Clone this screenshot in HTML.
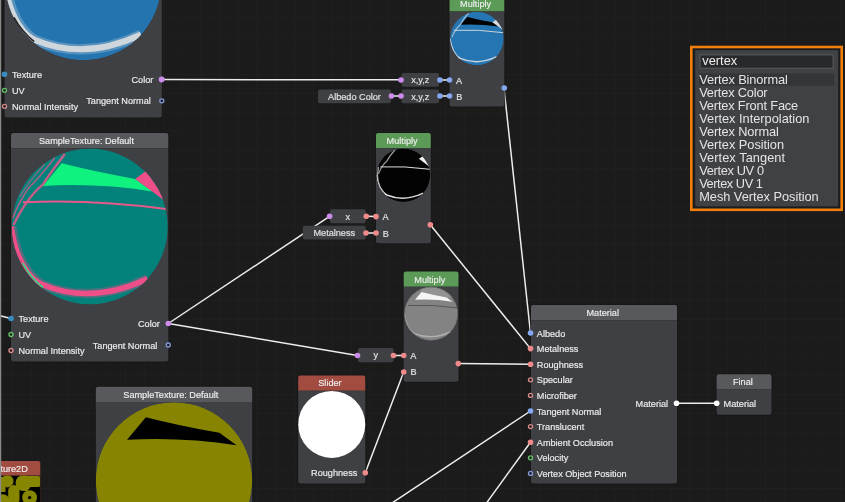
<!DOCTYPE html>
<html><head><meta charset="utf-8"><style>
html,body{margin:0;padding:0;background:#1b1b1b;width:845px;height:502px;overflow:hidden}
</style></head><body>
<svg width="845" height="502" viewBox="0 0 845 502" style="display:block;font-family:'Liberation Sans', sans-serif;will-change:transform"><defs></defs><rect width="845" height="502" fill="#1b1b1b"/><path d="M12.55,0V502M31.37,0V502M50.19,0V502M69.01,0V502M87.83,0V502M106.65,0V502M125.47,0V502M144.29,0V502M163.11,0V502M181.93,0V502M200.75,0V502M219.57,0V502M238.39,0V502M257.21,0V502M276.03,0V502M294.85,0V502M313.67,0V502M332.49,0V502M351.31,0V502M370.13,0V502M388.95,0V502M407.77,0V502M426.59,0V502M445.41,0V502M464.23,0V502M483.05,0V502M501.87,0V502M520.69,0V502M539.51,0V502M558.33,0V502M577.15,0V502M595.97,0V502M614.79,0V502M633.61,0V502M652.43,0V502M671.25,0V502M690.07,0V502M708.89,0V502M727.71,0V502M746.53,0V502M765.35,0V502M784.17,0V502M802.99,0V502M821.81,0V502M840.63,0V502M0,-0.62H845M0,18.20H845M0,37.02H845M0,55.84H845M0,74.66H845M0,93.48H845M0,112.30H845M0,131.12H845M0,149.94H845M0,168.76H845M0,187.58H845M0,206.40H845M0,225.22H845M0,244.04H845M0,262.86H845M0,281.68H845M0,300.50H845M0,319.32H845M0,338.14H845M0,356.96H845M0,375.78H845M0,394.60H845M0,413.42H845M0,432.24H845M0,451.06H845M0,469.88H845M0,488.70H845" stroke="#202020" stroke-width="1" fill="none"/><line x1="161.5" y1="79.6" x2="401" y2="79.8" stroke="#ececec" stroke-width="1.5" stroke-linecap="round"/><line x1="391.5" y1="96" x2="401" y2="96" stroke="#ececec" stroke-width="1.5" stroke-linecap="round"/><line x1="440" y1="80" x2="449.5" y2="80" stroke="#ececec" stroke-width="1.5" stroke-linecap="round"/><line x1="440" y1="96" x2="449.5" y2="96" stroke="#ececec" stroke-width="1.5" stroke-linecap="round"/><line x1="504" y1="88" x2="530.5" y2="333" stroke="#ececec" stroke-width="1.5" stroke-linecap="round"/><line x1="168.3" y1="323.5" x2="329.6" y2="216.3" stroke="#ececec" stroke-width="1.5" stroke-linecap="round"/><line x1="168.3" y1="323.5" x2="357.5" y2="355.5" stroke="#ececec" stroke-width="1.5" stroke-linecap="round"/><line x1="366.3" y1="216.3" x2="376" y2="216.5" stroke="#ececec" stroke-width="1.5" stroke-linecap="round"/><line x1="366" y1="233" x2="376" y2="233" stroke="#ececec" stroke-width="1.5" stroke-linecap="round"/><line x1="430.3" y1="224.8" x2="530.5" y2="348.6" stroke="#ececec" stroke-width="1.5" stroke-linecap="round"/><line x1="393.5" y1="355.5" x2="403.7" y2="355.5" stroke="#ececec" stroke-width="1.5" stroke-linecap="round"/><line x1="365.3" y1="472.7" x2="403.7" y2="372" stroke="#ececec" stroke-width="1.5" stroke-linecap="round"/><line x1="458" y1="363.6" x2="530.5" y2="364.2" stroke="#ececec" stroke-width="1.5" stroke-linecap="round"/><line x1="676.5" y1="403.2" x2="716.7" y2="403.3" stroke="#ececec" stroke-width="1.5" stroke-linecap="round"/><line x1="392" y1="503" x2="530.5" y2="411" stroke="#ececec" stroke-width="1.5" stroke-linecap="round"/><line x1="486.5" y1="503" x2="530.5" y2="442.2" stroke="#ececec" stroke-width="1.5" stroke-linecap="round"/><line x1="0" y1="315.8" x2="11" y2="318.5" stroke="#ececec" stroke-width="1.5" stroke-linecap="round"/><rect x="3.5" y="-112.2" width="159.3" height="230.6" rx="3" fill="#151515" opacity="0.6"/><path d="M4.5,-96.0 V-109.2 Q4.5,-111.2 6.5,-111.2 H159.8 Q161.8,-111.2 161.8,-109.2 V-96.0 Z" fill="#58595c"/><path d="M4.5,-96.0 H161.8 V115.39999999999999 Q161.8,117.39999999999999 159.8,117.39999999999999 H6.5 Q4.5,117.39999999999999 4.5,115.39999999999999 Z" fill="#3f4044"/><text transform="translate(79.95,-100.20) scale(0.963,1)" font-size="9.5" text-anchor="middle" fill="#ededed" stroke="#ededed" stroke-width="0.18" >SampleTexture: Default</text><clipPath id="c1"><circle cx="83.35000000000001" cy="-17.700000000000003" r="78.0"/></clipPath><g clip-path="url(#c1)"><g transform="translate(83.35000000000001,-17.700000000000003) scale(78.0)"><circle cx="0" cy="0" r="1" fill="#2474b0"/><path d="M-1.0,0.0 Q-0.92,0.55 -0.62,0.74 Q0.02,1.01 0.74,0.67" stroke="#cfd7dc" stroke-width="10.2" vector-effect="non-scaling-stroke" fill="none" opacity="0.3"/><path d="M-1.0,0.0 Q-0.92,0.55 -0.62,0.74" stroke="#cfd7dc" stroke-width="4.5" vector-effect="non-scaling-stroke" fill="none"/><path d="M-0.70,0.69 Q-0.66,0.72 -0.62,0.74 Q0.02,1.01 0.74,0.67" stroke="#cfd7dc" stroke-width="6" vector-effect="non-scaling-stroke" fill="none"/></g></g><path d="M13.93,17.40 Q21.73,31.83 34.21,41.58" stroke="#0a0a0a" stroke-width="1.6" fill="none" opacity="0.85"/><circle cx="4.5" cy="74.3" r="2.8" fill="#3a8cc0"/><circle cx="4.5" cy="90.3" r="1.9999999999999998" fill="#1a1a1a" stroke="#66c466" stroke-width="1.35"/><circle cx="4.5" cy="106.3" r="1.9999999999999998" fill="#1a1a1a" stroke="#d98a8a" stroke-width="1.35"/><text transform="translate(12.00,77.80) scale(0.963,1)" font-size="9.5" text-anchor="start" fill="#ececec" stroke="#ececec" stroke-width="0.18" >Texture</text><text transform="translate(12.00,93.80) scale(0.963,1)" font-size="9.5" text-anchor="start" fill="#ececec" stroke="#ececec" stroke-width="0.18" >UV</text><text transform="translate(12.00,109.80) scale(0.963,1)" font-size="9.5" text-anchor="start" fill="#ececec" stroke="#ececec" stroke-width="0.18" >Normal Intensity</text><circle cx="161.8" cy="79.3" r="2.8" fill="#cd8cec"/><circle cx="161.8" cy="100.8" r="1.9999999999999998" fill="#1a1a1a" stroke="#8499dc" stroke-width="1.35"/><text transform="translate(153.30,82.80) scale(0.963,1)" font-size="9.5" text-anchor="end" fill="#ececec" stroke="#ececec" stroke-width="0.18" >Color</text><text transform="translate(150.80,104.30) scale(0.963,1)" font-size="9.5" text-anchor="end" fill="#ececec" stroke="#ececec" stroke-width="0.18" >Tangent Normal</text><rect x="10" y="132" width="159.3" height="230.6" rx="3" fill="#151515" opacity="0.6"/><path d="M11,148.2 V135 Q11,133 13,133 H166.3 Q168.3,133 168.3,135 V148.2 Z" fill="#58595c"/><path d="M11,148.2 H168.3 V359.6 Q168.3,361.6 166.3,361.6 H13 Q11,361.6 11,359.6 Z" fill="#3f4044"/><text transform="translate(86.45,144.00) scale(0.963,1)" font-size="9.5" text-anchor="middle" fill="#ededed" stroke="#ededed" stroke-width="0.18" >SampleTexture: Default</text><clipPath id="c2"><circle cx="89.85000000000001" cy="226.5" r="78.0"/></clipPath><g clip-path="url(#c2)"><g transform="translate(89.85000000000001,226.5) scale(78.0)"><circle cx="0" cy="0" r="1" fill="#03817b"/><path d="M-0.32,-0.93 Q-0.50,-0.70 -0.60,-0.54 Q-0.80,-0.38 -0.98,-0.02" stroke="#e8588a" stroke-width="2.5" vector-effect="non-scaling-stroke" fill="none" opacity="0.85"/><path d="M-0.45,-0.88 Q-0.65,-0.62 -0.78,-0.50 Q-0.92,-0.30 -0.99,-0.10" stroke="#e8588a" stroke-width="1.6" vector-effect="non-scaling-stroke" fill="none" opacity="0.7"/><path d="M-0.58,-0.80 Q-0.78,-0.58 -0.90,-0.38" stroke="#e8588a" stroke-width="1.4" vector-effect="non-scaling-stroke" fill="none" opacity="0.6"/><path d="M-0.36,-0.81 Q0.07,-0.70 0.58,-0.61 L0.80,-0.45 Q0.10,-0.56 -0.60,-0.52 Z" fill="#10f27f"/><path d="M0.58,-0.61 L0.72,-0.71 L1.02,-0.28 L0.80,-0.45 Z" fill="#ef4f88"/><path d="M-0.86,-0.31 Q0.05,-0.35 1.0,-0.22" stroke="#e8588a" stroke-width="2" vector-effect="non-scaling-stroke" fill="none"/><path d="M-1.0,0.0 Q-0.92,0.55 -0.62,0.74 Q0.02,1.01 0.74,0.67" stroke="#ef4f88" stroke-width="9.35" vector-effect="non-scaling-stroke" fill="none" opacity="0.3"/><path d="M-1.0,0.0 Q-0.92,0.55 -0.62,0.74" stroke="#ef4f88" stroke-width="4.125" vector-effect="non-scaling-stroke" fill="none"/><path d="M-0.70,0.69 Q-0.66,0.72 -0.62,0.74 Q0.02,1.01 0.74,0.67" stroke="#ef4f88" stroke-width="5.5" vector-effect="non-scaling-stroke" fill="none"/></g></g><path d="M22.77,263.16 Q30.57,277.98 43.05,287.34" stroke="#10f27f" stroke-width="1.5" fill="none" opacity="0.9"/><circle cx="11" cy="318.5" r="2.8" fill="#3a8cc0"/><circle cx="11" cy="334.5" r="1.9999999999999998" fill="#1a1a1a" stroke="#66c466" stroke-width="1.35"/><circle cx="11" cy="350.5" r="1.9999999999999998" fill="#1a1a1a" stroke="#d98a8a" stroke-width="1.35"/><text transform="translate(18.50,322.00) scale(0.963,1)" font-size="9.5" text-anchor="start" fill="#ececec" stroke="#ececec" stroke-width="0.18" >Texture</text><text transform="translate(18.50,338.00) scale(0.963,1)" font-size="9.5" text-anchor="start" fill="#ececec" stroke="#ececec" stroke-width="0.18" >UV</text><text transform="translate(18.50,354.00) scale(0.963,1)" font-size="9.5" text-anchor="start" fill="#ececec" stroke="#ececec" stroke-width="0.18" >Normal Intensity</text><circle cx="168.3" cy="323.5" r="2.8" fill="#cd8cec"/><circle cx="168.3" cy="345" r="1.9999999999999998" fill="#1a1a1a" stroke="#8499dc" stroke-width="1.35"/><text transform="translate(159.80,327.00) scale(0.963,1)" font-size="9.5" text-anchor="end" fill="#ececec" stroke="#ececec" stroke-width="0.18" >Color</text><text transform="translate(157.30,348.50) scale(0.963,1)" font-size="9.5" text-anchor="end" fill="#ececec" stroke="#ececec" stroke-width="0.18" >Tangent Normal</text><rect x="94.8" y="385.7" width="158.4" height="202" rx="3" fill="#151515" opacity="0.6"/><path d="M95.8,401.9 V388.7 Q95.8,386.7 97.8,386.7 H250.2 Q252.2,386.7 252.2,388.7 V401.9 Z" fill="#58595c"/><path d="M95.8,401.9 H252.2 V584.7 Q252.2,586.7 250.2,586.7 H97.8 Q95.8,586.7 95.8,584.7 Z" fill="#3f4044"/><text transform="translate(170.80,397.70) scale(0.963,1)" font-size="9.5" text-anchor="middle" fill="#ededed" stroke="#ededed" stroke-width="0.18" >SampleTexture: Default</text><clipPath id="c3"><circle cx="174" cy="480.5" r="78.2"/></clipPath><g clip-path="url(#c3)"><g transform="translate(174,480.5) scale(78.2)"><circle cx="0" cy="0" r="1" fill="#868400"/><path d="M-0.36,-0.81 Q0.07,-0.70 0.58,-0.61 L0.80,-0.45 Q0.10,-0.56 -0.60,-0.52 Z" fill="#000000"/></g></g><rect x="-60" y="461.1" width="100.3" height="50" rx="2" fill="#a24b41"/><rect x="-60" y="475.6" width="100.3" height="40" fill="#000"/><clipPath id="t2d"><rect x="0" y="475.6" width="40.3" height="30"/></clipPath><g fill="#868600" clip-path="url(#t2d)"><circle cx="7.3" cy="481.2" r="6.2"/><circle cx="23.6" cy="483" r="8"/><rect x="21" y="476" width="19.3" height="11" rx="2"/><rect x="1" y="477" width="4.5" height="15"/><rect x="8.2" y="485" width="11.3" height="20" rx="5.6"/><path d="M17,487 L30,486 L27,492 Z"/><circle cx="29.6" cy="497.6" r="7.4"/><circle cx="3" cy="500.5" r="6.3"/></g><circle cx="29.6" cy="497.6" r="1.7" fill="#000"/><text transform="translate(27.80,472.00) scale(0.963,1)" font-size="9.5" text-anchor="end" fill="#eeeeee" stroke="#eeeeee" stroke-width="0.18" >ture2D</text><rect x="448.5" y="-4.6" width="56.8" height="112.2" rx="3" fill="#151515" opacity="0.6"/><path d="M449.5,11.6 V-1.6 Q449.5,-3.6 451.5,-3.6 H502.3 Q504.3,-3.6 504.3,-1.6 V11.6 Z" fill="#5b9a57"/><path d="M449.5,11.6 H504.3 V104.60000000000001 Q504.3,106.60000000000001 502.3,106.60000000000001 H451.5 Q449.5,106.60000000000001 449.5,104.60000000000001 Z" fill="#3f4044"/><text transform="translate(475.60,7.40) scale(0.963,1)" font-size="9.5" text-anchor="middle" fill="#ededed" stroke="#ededed" stroke-width="0.18" >Multiply</text><clipPath id="s89"><circle cx="476.9" cy="38.6" r="26.8"/></clipPath><g clip-path="url(#s89)"><g transform="translate(476.9,38.6) scale(26.8)"><circle cx="0" cy="0" r="1" fill="#2575b3"/><path d="M-0.30,-0.96 Q-0.52,-0.72 -0.62,-0.52 Q-0.80,-0.38 -0.93,-0.05" stroke="#c8d4dc" stroke-width="1.2000000000000002" vector-effect="non-scaling-stroke" fill="none" opacity="0.75"/><path d="M-0.36,-0.81 Q0.07,-0.70 0.58,-0.61 L0.80,-0.45 Q0.10,-0.56 -0.60,-0.52 Z" fill="#000000"/><path d="M0.58,-0.61 L0.72,-0.71 L1.02,-0.28 L0.80,-0.45 Z" fill="#d8d8d8"/><path d="M-0.86,-0.31 Q0.05,-0.35 1.0,-0.22" stroke="#c8d4dc" stroke-width="1" vector-effect="non-scaling-stroke" fill="none"/><path d="M-1.0,0.0 Q-0.92,0.55 -0.62,0.74" stroke="#c8d4dc" stroke-width="1.125" vector-effect="non-scaling-stroke" fill="none"/><path d="M-0.70,0.69 Q-0.66,0.72 -0.62,0.74 Q0.02,1.01 0.74,0.67" stroke="#c8d4dc" stroke-width="1.5" vector-effect="non-scaling-stroke" fill="none"/></g></g><text transform="translate(456.00,83.50) scale(0.963,1)" font-size="9.5" text-anchor="start" fill="#e6e6e6" stroke="#e6e6e6" stroke-width="0.18" >A</text><text transform="translate(456.30,99.90) scale(0.963,1)" font-size="9.5" text-anchor="start" fill="#e6e6e6" stroke="#e6e6e6" stroke-width="0.18" >B</text><rect x="375" y="132" width="56.8" height="112.2" rx="3" fill="#151515" opacity="0.6"/><path d="M376,148.2 V135 Q376,133 378,133 H428.8 Q430.8,133 430.8,135 V148.2 Z" fill="#5b9a57"/><path d="M376,148.2 H430.8 V241.2 Q430.8,243.2 428.8,243.2 H378 Q376,243.2 376,241.2 Z" fill="#3f4044"/><text transform="translate(402.10,144.00) scale(0.963,1)" font-size="9.5" text-anchor="middle" fill="#ededed" stroke="#ededed" stroke-width="0.18" >Multiply</text><clipPath id="s105"><circle cx="403.4" cy="175.2" r="26.8"/></clipPath><g clip-path="url(#s105)"><g transform="translate(403.4,175.2) scale(26.8)"><circle cx="0" cy="0" r="1" fill="#030303"/><path d="M-0.30,-0.96 Q-0.52,-0.72 -0.62,-0.52 Q-0.80,-0.38 -0.93,-0.05" stroke="#cccccc" stroke-width="1.2000000000000002" vector-effect="non-scaling-stroke" fill="none" opacity="0.75"/><path d="M0.58,-0.61 L0.72,-0.71 L1.02,-0.28 L0.80,-0.45 Z" fill="#f0f0f0"/><path d="M-0.86,-0.31 Q0.05,-0.35 1.0,-0.22" stroke="#dddddd" stroke-width="1" vector-effect="non-scaling-stroke" fill="none"/><path d="M-1.0,0.0 Q-0.92,0.55 -0.62,0.74" stroke="#dddddd" stroke-width="1.125" vector-effect="non-scaling-stroke" fill="none"/><path d="M-0.70,0.69 Q-0.66,0.72 -0.62,0.74 Q0.02,1.01 0.74,0.67" stroke="#dddddd" stroke-width="1.5" vector-effect="non-scaling-stroke" fill="none"/></g></g><path d="M378.48,167.16 Q375.26,183.24 383.30,191.82" stroke="#bbbbbb" stroke-width="1.1" fill="none"/><text transform="translate(382.50,220.10) scale(0.963,1)" font-size="9.5" text-anchor="start" fill="#e6e6e6" stroke="#e6e6e6" stroke-width="0.18" >A</text><text transform="translate(382.80,236.50) scale(0.963,1)" font-size="9.5" text-anchor="start" fill="#e6e6e6" stroke="#e6e6e6" stroke-width="0.18" >B</text><rect x="402.7" y="270.6" width="56.8" height="112.2" rx="3" fill="#151515" opacity="0.6"/><path d="M403.7,286.8 V273.6 Q403.7,271.6 405.7,271.6 H456.5 Q458.5,271.6 458.5,273.6 V286.8 Z" fill="#5b9a57"/><path d="M403.7,286.8 H458.5 V379.8 Q458.5,381.8 456.5,381.8 H405.7 Q403.7,381.8 403.7,379.8 Z" fill="#3f4044"/><text transform="translate(429.80,282.60) scale(0.963,1)" font-size="9.5" text-anchor="middle" fill="#ededed" stroke="#ededed" stroke-width="0.18" >Multiply</text><clipPath id="s121"><circle cx="431.09999999999997" cy="313.8" r="26.8"/></clipPath><g clip-path="url(#s121)"><g transform="translate(431.09999999999997,313.8) scale(26.8)"><circle cx="0" cy="0" r="1" fill="#838383"/><path d="M-1,-1.1 H1 V-0.62 L0.58,-0.61 Q0.07,-0.70 -0.36,-0.81 L-0.5,-1.1 Z" fill="#929292"/><path d="M-0.36,-0.81 Q0.07,-0.70 0.58,-0.61 L0.80,-0.45 Q0.10,-0.56 -0.60,-0.52 Z" fill="#f4f4f4"/><path d="M-0.86,-0.31 Q0.05,-0.35 1.0,-0.22" stroke="#555555" stroke-width="1" vector-effect="non-scaling-stroke" fill="none"/><path d="M-1.0,0.0 Q-0.92,0.55 -0.62,0.74" stroke="#b0b0b0" stroke-width="1.125" vector-effect="non-scaling-stroke" fill="none"/><path d="M-0.70,0.69 Q-0.66,0.72 -0.62,0.74 Q0.02,1.01 0.74,0.67" stroke="#b0b0b0" stroke-width="1.5" vector-effect="non-scaling-stroke" fill="none"/><circle cx="0" cy="0" r="1" fill="none" stroke="#6a6a6a" stroke-width="1.2" vector-effect="non-scaling-stroke"/></g></g><text transform="translate(410.20,358.70) scale(0.963,1)" font-size="9.5" text-anchor="start" fill="#e6e6e6" stroke="#e6e6e6" stroke-width="0.18" >A</text><text transform="translate(410.50,375.10) scale(0.963,1)" font-size="9.5" text-anchor="start" fill="#e6e6e6" stroke="#e6e6e6" stroke-width="0.18" >B</text><rect x="401.5" y="73" width="37.60000000000002" height="13.700000000000003" rx="2" fill="#3f4044" /><text transform="translate(420.30,83.15) scale(0.963,1)" font-size="9.5" text-anchor="middle" fill="#e2e2e2" stroke="#e2e2e2" stroke-width="0.18" >x,y,z</text><rect x="401.5" y="89.5" width="37.60000000000002" height="13.700000000000003" rx="2" fill="#3f4044" /><text transform="translate(420.30,99.65) scale(0.963,1)" font-size="9.5" text-anchor="middle" fill="#e2e2e2" stroke="#e2e2e2" stroke-width="0.18" >x,y,z</text><rect x="318" y="89.5" width="73" height="13.700000000000003" rx="2" fill="#3f4044" /><text transform="translate(354.50,99.65) scale(0.963,1)" font-size="9.5" text-anchor="middle" fill="#e2e2e2" stroke="#e2e2e2" stroke-width="0.18" >Albedo Color</text><rect x="330" y="209.2" width="35.69999999999999" height="14.100000000000023" rx="2" fill="#3f4044" /><text transform="translate(347.85,219.55) scale(0.963,1)" font-size="9.5" text-anchor="middle" fill="#e2e2e2" stroke="#e2e2e2" stroke-width="0.18" >x</text><rect x="302.8" y="225.8" width="62.89999999999998" height="13.799999999999983" rx="2" fill="#3f4044" /><text transform="translate(334.25,236.00) scale(0.963,1)" font-size="9.5" text-anchor="middle" fill="#e2e2e2" stroke="#e2e2e2" stroke-width="0.18" >Metalness</text><rect x="358" y="348" width="35.60000000000002" height="14.300000000000011" rx="2" fill="#3f4044" /><text transform="translate(375.80,358.45) scale(0.963,1)" font-size="9.5" text-anchor="middle" fill="#e2e2e2" stroke="#e2e2e2" stroke-width="0.18" >y</text><rect x="297.2" y="374.5" width="69.1" height="110" rx="3" fill="#151515" opacity="0.6"/><path d="M298.2,390.7 V377.5 Q298.2,375.5 300.2,375.5 H363.29999999999995 Q365.29999999999995,375.5 365.29999999999995,377.5 V390.7 Z" fill="#a24b41"/><path d="M298.2,390.7 H365.29999999999995 V481.5 Q365.29999999999995,483.5 363.29999999999995,483.5 H300.2 Q298.2,483.5 298.2,481.5 Z" fill="#3f4044"/><text transform="translate(329.95,385.80) scale(0.963,1)" font-size="9.5" text-anchor="middle" fill="#ededed" stroke="#ededed" stroke-width="0.18" >Slider</text><circle cx="331.75" cy="424.4" r="33.5" fill="#ffffff"/><text transform="translate(357.30,476.00) scale(0.963,1)" font-size="9.5" text-anchor="end" fill="#ececec" stroke="#ececec" stroke-width="0.18" >Roughness</text><rect x="530" y="304.1" width="148" height="180.4" rx="3" fill="#151515" opacity="0.6"/><path d="M531,320.3 V307.1 Q531,305.1 533,305.1 H675 Q677,305.1 677,307.1 V320.3 Z" fill="#58595c"/><path d="M531,320.3 H677 V481.5 Q677,483.5 675,483.5 H533 Q531,483.5 531,481.5 Z" fill="#3f4044"/><text transform="translate(602.70,316.10) scale(0.963,1)" font-size="9.5" text-anchor="middle" fill="#ededed" stroke="#ededed" stroke-width="0.18" >Material</text><text transform="translate(536.80,336.50) scale(0.963,1)" font-size="9.5" text-anchor="start" fill="#ececec" stroke="#ececec" stroke-width="0.18" >Albedo</text><text transform="translate(536.80,352.10) scale(0.963,1)" font-size="9.5" text-anchor="start" fill="#ececec" stroke="#ececec" stroke-width="0.18" >Metalness</text><text transform="translate(536.80,367.70) scale(0.963,1)" font-size="9.5" text-anchor="start" fill="#ececec" stroke="#ececec" stroke-width="0.18" >Roughness</text><text transform="translate(536.80,383.30) scale(0.963,1)" font-size="9.5" text-anchor="start" fill="#ececec" stroke="#ececec" stroke-width="0.18" >Specular</text><text transform="translate(536.80,398.90) scale(0.963,1)" font-size="9.5" text-anchor="start" fill="#ececec" stroke="#ececec" stroke-width="0.18" >Microfiber</text><text transform="translate(536.80,414.50) scale(0.963,1)" font-size="9.5" text-anchor="start" fill="#ececec" stroke="#ececec" stroke-width="0.18" >Tangent Normal</text><text transform="translate(536.80,430.10) scale(0.963,1)" font-size="9.5" text-anchor="start" fill="#ececec" stroke="#ececec" stroke-width="0.18" >Translucent</text><text transform="translate(536.80,445.70) scale(0.963,1)" font-size="9.5" text-anchor="start" fill="#ececec" stroke="#ececec" stroke-width="0.18" >Ambient Occlusion</text><text transform="translate(536.80,461.30) scale(0.963,1)" font-size="9.5" text-anchor="start" fill="#ececec" stroke="#ececec" stroke-width="0.18" >Velocity</text><text transform="translate(536.80,476.90) scale(0.963,1)" font-size="9.5" text-anchor="start" fill="#ececec" stroke="#ececec" stroke-width="0.18" >Vertex Object Position</text><text transform="translate(668.10,406.70) scale(0.963,1)" font-size="9.5" text-anchor="end" fill="#ececec" stroke="#ececec" stroke-width="0.18" >Material</text><rect x="715.6" y="373.3" width="56.9" height="42.5" rx="3" fill="#151515" opacity="0.6"/><path d="M716.6,389.5 V376.3 Q716.6,374.3 718.6,374.3 H769.5 Q771.5,374.3 771.5,376.3 V389.5 Z" fill="#58595c"/><path d="M716.6,389.5 H771.5 V412.8 Q771.5,414.8 769.5,414.8 H718.6 Q716.6,414.8 716.6,412.8 Z" fill="#3f4044"/><text transform="translate(742.85,385.30) scale(0.963,1)" font-size="9.5" text-anchor="middle" fill="#ededed" stroke="#ededed" stroke-width="0.18" >Final</text><text transform="translate(723.60,406.80) scale(0.963,1)" font-size="9.5" text-anchor="start" fill="#ececec" stroke="#ececec" stroke-width="0.18" >Material</text><circle cx="161.5" cy="79.6" r="2.8" fill="#cd8cec"/><circle cx="401" cy="80" r="2.8" fill="#cd8cec"/><circle cx="440" cy="80" r="2.8" fill="#84a8f2"/><circle cx="449.5" cy="80" r="2.8" fill="#84a8f2"/><circle cx="391.5" cy="96" r="2.8" fill="#cd8cec"/><circle cx="401" cy="96" r="2.8" fill="#cd8cec"/><circle cx="440" cy="96" r="2.8" fill="#84a8f2"/><circle cx="449.5" cy="96" r="2.8" fill="#84a8f2"/><circle cx="504.3" cy="88" r="2.8" fill="#84a8f2"/><circle cx="329.6" cy="216.3" r="2.8" fill="#cd8cec"/><circle cx="366.3" cy="216.3" r="2.8" fill="#ef8a8a"/><circle cx="376" cy="216.6" r="2.8" fill="#ef8a8a"/><circle cx="366" cy="233" r="2.8" fill="#ef8a8a"/><circle cx="376" cy="233" r="2.8" fill="#ef8a8a"/><circle cx="430.3" cy="224.8" r="2.8" fill="#ef8a8a"/><circle cx="357.5" cy="355.5" r="2.8" fill="#cd8cec"/><circle cx="393.5" cy="355.5" r="2.8" fill="#ef8a8a"/><circle cx="403.7" cy="355.5" r="2.8" fill="#ef8a8a"/><circle cx="403.7" cy="372" r="2.8" fill="#ef8a8a"/><circle cx="458.3" cy="363.6" r="2.8" fill="#ef8a8a"/><circle cx="365.3" cy="472.7" r="2.8" fill="#ef8a8a"/><circle cx="530.5" cy="333.0" r="2.8" fill="#84a8f2"/><circle cx="530.5" cy="348.6" r="2.8" fill="#ef8a8a"/><circle cx="530.5" cy="364.2" r="2.8" fill="#ef8a8a"/><circle cx="530.5" cy="379.8" r="1.9999999999999998" fill="#1a1a1a" stroke="#d98a8a" stroke-width="1.35"/><circle cx="530.5" cy="395.4" r="1.9999999999999998" fill="#1a1a1a" stroke="#d98a8a" stroke-width="1.35"/><circle cx="530.5" cy="411.0" r="2.8" fill="#84a8f2"/><circle cx="530.5" cy="426.6" r="1.9999999999999998" fill="#1a1a1a" stroke="#d98a8a" stroke-width="1.35"/><circle cx="530.5" cy="442.2" r="2.8" fill="#ef8a8a"/><circle cx="530.5" cy="457.8" r="1.9999999999999998" fill="#1a1a1a" stroke="#66c466" stroke-width="1.35"/><circle cx="530.5" cy="473.4" r="1.9999999999999998" fill="#1a1a1a" stroke="#8499dc" stroke-width="1.35"/><circle cx="676.5" cy="403.2" r="2.8" fill="#ffffff"/><circle cx="716.7" cy="403.3" r="2.8" fill="#ffffff"/><rect x="691.3" y="47" width="150.4" height="162.8" fill="#1c1c1c" stroke="#f07f0c" stroke-width="2.6"/><rect x="695.2" y="50.2" width="143" height="156.2" fill="#404145"/><rect x="700.1" y="54.9" width="133" height="13.3" fill="#28292b" stroke="#5a5b5e" stroke-width="1"/><text x="702.3" y="65" font-size="12.8" text-anchor="start" fill="#eeeeee" >vertex</text><rect x="699" y="73.5" width="135" height="12.2" fill="#343538"/><text x="699.2" y="83.7" font-size="12.8" text-anchor="start" fill="#e4e4e4" textLength="88.62" lengthAdjust="spacing">Vertex Binormal</text><text x="699.2" y="96.7" font-size="12.8" text-anchor="start" fill="#e4e4e4" textLength="68.41" lengthAdjust="spacing">Vertex Color</text><text x="699.2" y="109.7" font-size="12.8" text-anchor="start" fill="#e4e4e4" textLength="99.0" lengthAdjust="spacing">Vertex Front Face</text><text x="699.2" y="122.7" font-size="12.8" text-anchor="start" fill="#e4e4e4" textLength="110.18" lengthAdjust="spacing">Vertex Interpolation</text><text x="699.2" y="135.7" font-size="12.8" text-anchor="start" fill="#e4e4e4" textLength="79.68" lengthAdjust="spacing">Vertex Normal</text><text x="699.2" y="148.7" font-size="12.8" text-anchor="start" fill="#e4e4e4" textLength="84.87" lengthAdjust="spacing">Vertex Position</text><text x="699.2" y="161.7" font-size="12.8" text-anchor="start" fill="#e4e4e4" textLength="85.86" lengthAdjust="spacing">Vertex Tangent</text><text x="699.2" y="174.7" font-size="12.8" text-anchor="start" fill="#e4e4e4" textLength="64.98" lengthAdjust="spacing">Vertex UV 0</text><text x="699.2" y="187.7" font-size="12.8" text-anchor="start" fill="#e4e4e4" textLength="63.78" lengthAdjust="spacing">Vertex UV 1</text><text x="699.2" y="200.7" font-size="12.8" text-anchor="start" fill="#e4e4e4" textLength="119.52" lengthAdjust="spacing">Mesh Vertex Position</text><rect x="0" y="0" width="1.2" height="502" fill="#8a8a8a"/></svg>
</body></html>
